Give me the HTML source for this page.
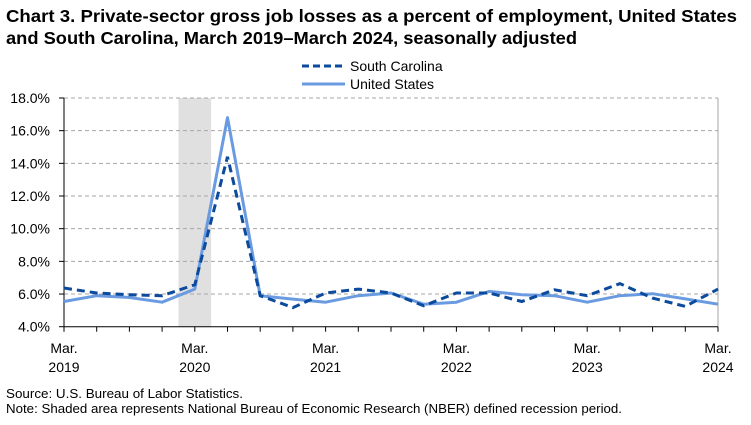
<!DOCTYPE html>
<html><head><meta charset="utf-8"><style>
body{margin:0;background:#fff;font-family:"Liberation Sans",Arial,sans-serif}
svg text{font-family:"Liberation Sans",Arial,sans-serif}
</style></head><body>
<svg id="c" width="751" height="420" viewBox="0 0 751 420">
<text x="6" y="22" font-size="17.5" font-weight="bold" textLength="731" lengthAdjust="spacingAndGlyphs">Chart 3. Private-sector gross job losses as a percent of employment, United States</text>
<text x="6" y="44" font-size="17.5" font-weight="bold" textLength="571" lengthAdjust="spacingAndGlyphs">and South Carolina, March 2019–March 2024, seasonally adjusted</text>
<g>
<line x1="302" y1="66" x2="345" y2="66" stroke="#0b4a9c" stroke-width="3" stroke-dasharray="7,4"/>
<text x="350" y="71" font-size="14">South Carolina</text>
<line x1="302" y1="84" x2="345" y2="84" stroke="#6a9be0" stroke-width="3"/>
<text x="350" y="89" font-size="14">United States</text>
</g>
<g id="plot"></g>
<text x="6" y="398" font-size="12.5" textLength="237" lengthAdjust="spacingAndGlyphs">Source: U.S. Bureau of Labor Statistics.</text>
<text x="6" y="413" font-size="12.5" textLength="616" lengthAdjust="spacingAndGlyphs">Note: Shaded area represents National Bureau of Economic Research (NBER) defined recession period.</text>
</svg>
<script>
const quarters = ["Mar. 2019","Jun. 2019","Sep. 2019","Dec. 2019","Mar. 2020","Jun. 2020","Sep. 2020","Dec. 2020","Mar. 2021","Jun. 2021","Sep. 2021","Dec. 2021","Mar. 2022","Jun. 2022","Sep. 2022","Dec. 2022","Mar. 2023","Jun. 2023","Sep. 2023","Dec. 2023","Mar. 2024"];
const southCarolina = [6.37,6.06,5.96,5.9,6.57,14.4,5.9,5.17,6.06,6.3,6.06,5.28,6.06,6.06,5.54,6.26,5.9,6.64,5.75,5.24,6.3];
const unitedStates = [5.54,5.9,5.79,5.5,6.3,16.8,5.9,5.69,5.5,5.9,6.06,5.38,5.5,6.16,5.96,5.9,5.5,5.9,6.02,5.7,5.38];
const yTicks = [4,6,8,10,12,14,16,18];
const xLabelIdx = [0,4,8,12,16,20];
const recession = [3.5,4.5];
const NS="http://www.w3.org/2000/svg";
const L=64,R=718,T=98,B=326.7,ymin=4,ymax=18;
const x=i=>L+(R-L)*i/(quarters.length-1);
const y=v=>B-(B-T)*(v-ymin)/(ymax-ymin);
const g=document.getElementById('plot');
function mk(t,a){const e=document.createElementNS(NS,t);for(const k in a)e.setAttribute(k,a[k]);g.appendChild(e);return e;}
let e=mk('rect',{x:x(recession[0]),y:T,width:x(recession[1])-x(recession[0]),height:B-T,fill:'#e0e0e0'});


yTicks.forEach(v=>{
 if(v>ymin){e=mk('line',{x1:L,x2:R,y1:y(v),y2:y(v),stroke:'#a6a6a6','stroke-dasharray':'4,3','stroke-width':1});
 
 }
 e=mk('text',{x:50,y:y(v)+5,'text-anchor':'end','font-size':14});e.textContent=v.toFixed(1)+'%';
 
 
 e=mk('line',{x1:L-5,x2:L,y1:y(v),y2:y(v),stroke:'#000'});
 
 
});
e=mk('line',{x1:R,x2:R,y1:T,y2:B,stroke:'#a6a6a6'});


e=mk('line',{x1:L,x2:L,y1:T,y2:B,stroke:'#000'});


e=mk('line',{x1:L,x2:R,y1:B,y2:B,stroke:'#000'});


quarters.forEach((q,i)=>{e=mk('line',{x1:x(i),x2:x(i),y1:B,y2:B+5,stroke:'#000'});
 
 });
xLabelIdx.forEach(i=>{const p=quarters[i].split(' ');
 e=mk('text',{x:x(i),y:353,'text-anchor':'middle','font-size':14});e.textContent=p[0];
 
 
 e=mk('text',{x:x(i),y:372,'text-anchor':'middle','font-size':14});e.textContent=p[1];
 
 });
const pts=a=>a.map((v,i)=>x(i).toFixed(1)+','+y(v).toFixed(1)).join(' ');
e=mk('polyline',{points:pts(unitedStates),fill:'none',stroke:'#6a9be0','stroke-width':3,'stroke-linejoin':'round'});


e=mk('polyline',{points:pts(southCarolina),fill:'none',stroke:'#0b4a9c','stroke-width':3,'stroke-dasharray':'8,5'});


</script>
</body></html>
